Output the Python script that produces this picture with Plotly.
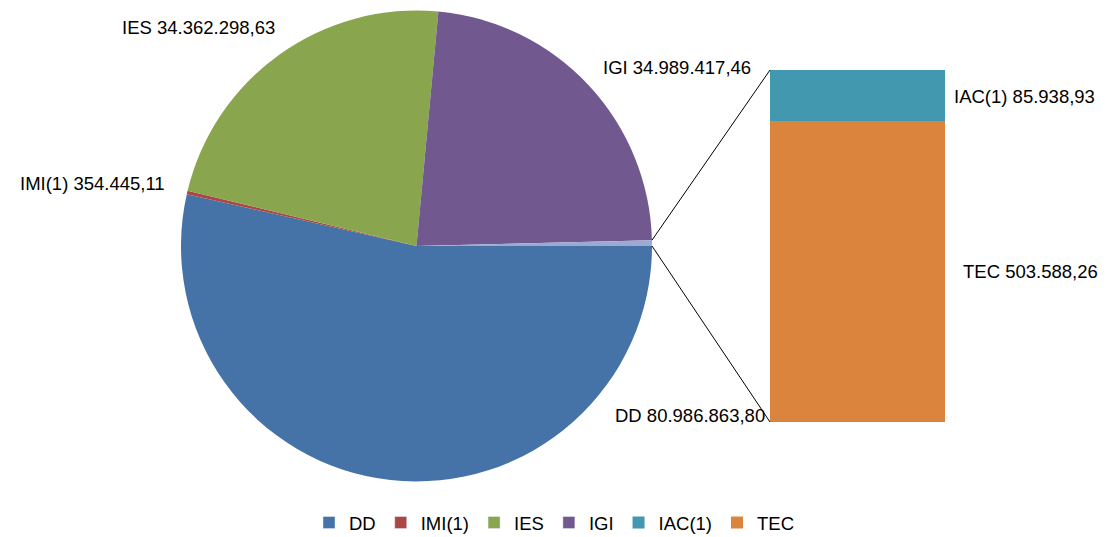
import math
import plotly.graph_objects as go

W, H = 1108, 537

# ---- data ----
pie_labels = ["DD", "IMI(1)", "IES", "IGI"]
pie_values = [80986863.80, 354445.11, 34362298.63, 34989417.46]
bar_labels = ["IAC(1)", "TEC"]
bar_values = [85938.93, 503588.26]
other_label = "Outros"

# ---- styles ----
pie_colors = ["#4572A7", "#AA4643", "#89A54E", "#71588F"]
other_color = "#9AAAD3"
bar_colors = ["#4198AF", "#DB843D"]
FONT = "Liberation Sans"
FS = 18.5


def fmt(v):
    s = f"{v:,.2f}"
    return s.replace(",", "X").replace(".", ",").replace("X", ".")


def px(x):
    return x / W


def py(y):
    return (H - y) / H


other_total = sum(bar_values)
all_values = pie_values + [other_total]
grand = sum(all_values)

# pie geometry (pixels)
cx, cy, r = 416.5, 246.0, 235.5
pie_dom_x = [px(cx - r), px(cx + r)]
pie_dom_y = [py(cy + r), py(cy - r)]

# bar geometry (pixels)
bar_left, bar_right, bar_top, bar_bottom = 770, 945, 70, 422
bar_dom_x = [px(bar_left), px(bar_right)]
bar_dom_y = [py(bar_bottom), py(bar_top)]

fig = go.Figure()

fig.add_trace(go.Pie(
    labels=pie_labels + [other_label],
    values=all_values,
    marker=dict(colors=pie_colors + [other_color], line=dict(width=0)),
    sort=False,
    direction="clockwise",
    rotation=90,
    textinfo="none",
    showlegend=False,
    domain=dict(x=pie_dom_x, y=pie_dom_y),
))

# legend entries for pie categories
for i, (lab, col) in enumerate(zip(pie_labels, pie_colors)):
    fig.add_trace(go.Bar(x=[None], y=[None], name=lab, marker_color=col,
                         legendrank=i + 1, showlegend=True))

# stacked bar (TEC bottom, IAC top)
for j in [1, 0]:
    fig.add_trace(go.Bar(
        x=[0], y=[bar_values[j]], name=bar_labels[j], width=1,
        marker=dict(color=bar_colors[j], line=dict(width=0)),
        legendrank=5 + j, showlegend=True,
    ))

# connector lines from the "other" slice to the bar
ang_other = 2 * math.pi * other_total / grand
p_top = (cx + r * math.cos(ang_other), cy - r * math.sin(ang_other))
p_bot = (cx + r, cy)
shapes = [
    dict(type="line", xref="paper", yref="paper",
         x0=px(p_top[0]), y0=py(p_top[1]), x1=bar_dom_x[0], y1=bar_dom_y[1],
         line=dict(color="black", width=1)),
    dict(type="line", xref="paper", yref="paper",
         x0=px(p_bot[0]), y0=py(p_bot[1]), x1=bar_dom_x[0], y1=bar_dom_y[0],
         line=dict(color="black", width=1)),
]

# data labels
label_pos = {
    "DD": (767, 415, "right"),
    "IMI(1)": (92, 183, "center"),
    "IES": (198, 28, "center"),
    "IGI": (677, 67, "center"),
    "IAC(1)": (1024, 96, "center"),
    "TEC": (1030, 271, "center"),
}
annotations = []
for lab, val in list(zip(pie_labels, pie_values)) + list(zip(bar_labels, bar_values)):
    x, y, anc = label_pos[lab]
    annotations.append(dict(
        x=px(x), y=py(y), xref="paper", yref="paper",
        text=f"{lab} {fmt(val)}", showarrow=False,
        xanchor=anc, yanchor="middle",
        font=dict(family=FONT, size=FS, color="#000000"),
    ))

fig.update_layout(
    width=W, height=H,
    margin=dict(l=0, r=0, t=0, b=0, autoexpand=False),
    paper_bgcolor="white", plot_bgcolor="rgba(0,0,0,0)",
    barmode="stack", bargap=0,
    xaxis=dict(domain=bar_dom_x, range=[-0.5, 0.5], visible=False, fixedrange=True),
    yaxis=dict(domain=bar_dom_y, range=[0, other_total], visible=False, fixedrange=True),
    shapes=shapes,
    annotations=annotations,
    legend=dict(orientation="h", x=0.5, xanchor="center", y=py(523), yanchor="middle",
                traceorder="normal",
                font=dict(family=FONT, size=FS, color="#000000"),
                itemwidth=30, tracegroupgap=0, bgcolor="rgba(0,0,0,0)"),
    showlegend=True,
)

fig.write_html("out.html", config={"displayModeBar": False},
               post_script="document.body.style.margin='0';")
